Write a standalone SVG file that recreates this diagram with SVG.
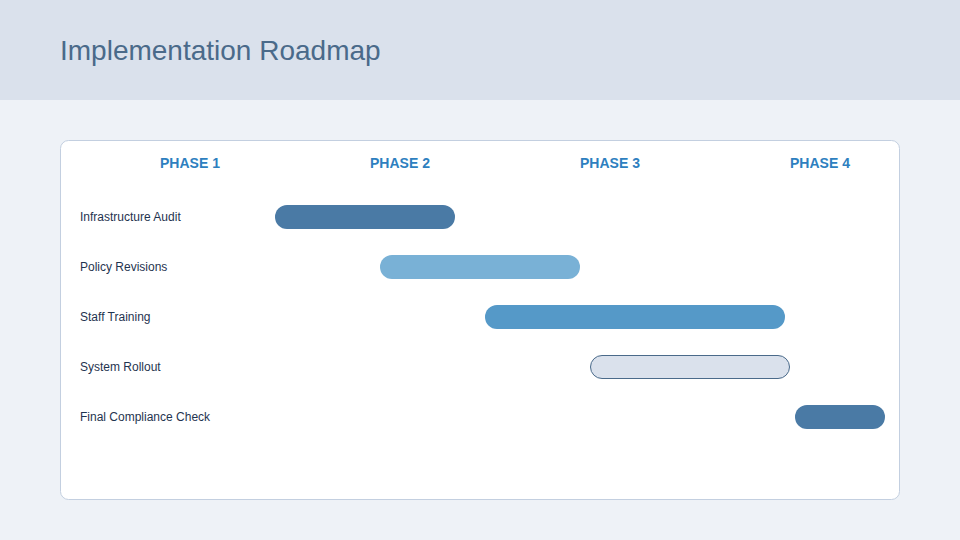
<svg xmlns="http://www.w3.org/2000/svg" width="960" height="540" viewBox="0 0 960 540">
<style>
.title{font-family:"Liberation Sans",Arial,sans-serif;font-size:28px;fill:#4a6a8a}
.phase{font-family:"Liberation Sans",Arial,sans-serif;font-size:14px;font-weight:bold;fill:#2e7fbf;text-anchor:middle}
.task{font-family:"Liberation Sans",Arial,sans-serif;font-size:12px;fill:#1f3450}
.dark{fill:#4a7aa5}
.light{fill:#79b1d6}
.mid{fill:#5599c8}
.pending{fill:#dae1ec;stroke:#4a6a8a;stroke-width:1}
</style>
<rect x="0" y="0" width="960" height="540" fill="#eef2f7"/>
<rect x="0" y="0" width="960" height="100" fill="#dae1ec"/>
<text class="title" x="60" y="60">Implementation Roadmap</text>
<rect x="60.5" y="140.5" width="839" height="359" rx="8" fill="#ffffff" stroke="#c3cfe0"/>
<g id="phases">
<text class="phase" x="190" y="168">PHASE 1</text>
<text class="phase" x="400" y="168">PHASE 2</text>
<text class="phase" x="610" y="168">PHASE 3</text>
<text class="phase" x="820" y="168">PHASE 4</text>
</g>
<g id="task1">
<text class="task" x="80" y="221">Infrastructure Audit</text>
<rect class="dark" x="275" y="205" width="180" height="24" rx="12"/>
</g>
<g id="task2">
<text class="task" x="80" y="271">Policy Revisions</text>
<rect class="light" x="380" y="255" width="200" height="24" rx="12"/>
</g>
<g id="task3">
<text class="task" x="80" y="321">Staff Training</text>
<rect class="mid" x="485" y="305" width="300" height="24" rx="12"/>
</g>
<g id="task4">
<text class="task" x="80" y="371">System Rollout</text>
<rect class="pending" x="590.5" y="355.5" width="199" height="23" rx="11.5"/>
</g>
<g id="task5">
<text class="task" x="80" y="421">Final Compliance Check</text>
<rect class="dark" x="795" y="405" width="90" height="24" rx="12"/>
</g>
<g id="connectors"></g>
</svg>
